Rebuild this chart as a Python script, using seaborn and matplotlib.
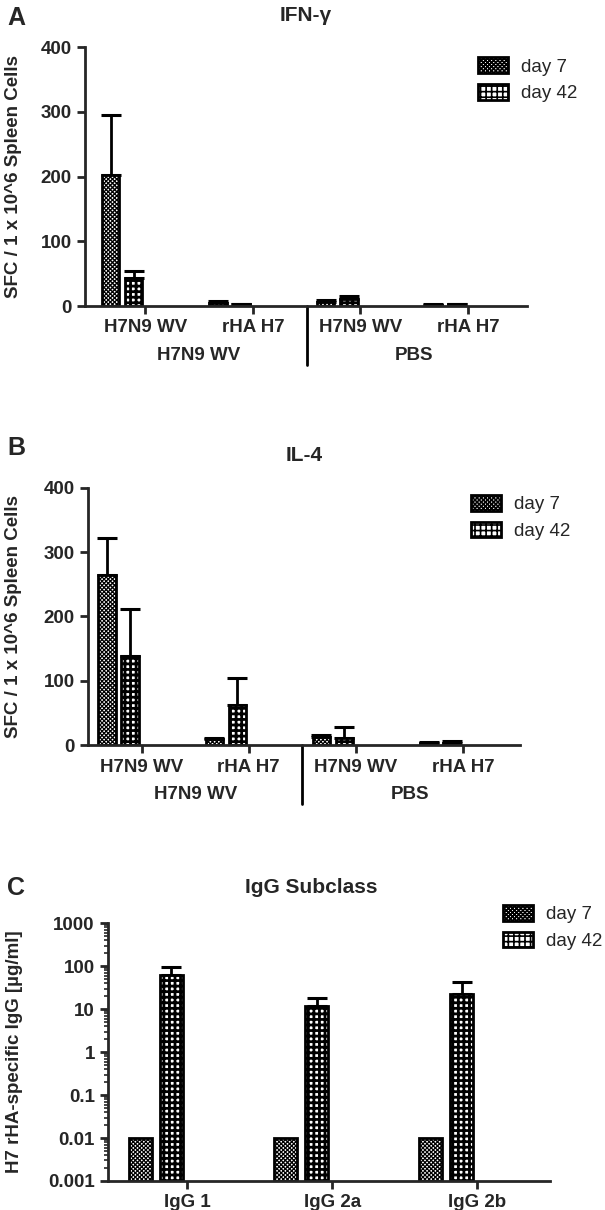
import numpy as np
import pandas as pd
import matplotlib.pyplot as plt
import seaborn as sns
from matplotlib.patches import Patch
from matplotlib.ticker import LogLocator, NullFormatter

# ----------------------------------------
# data
# ----------------------------------------
stim_keys = ["WV / H7N9 WV", "WV / rHA H7", "PBS / H7N9 WV", "PBS / rHA H7"]
stim_labels = ["H7N9 WV", "rHA H7", "H7N9 WV", "rHA H7"]
immun_groups = ["H7N9 WV", "PBS"]
days = ["day 7", "day 42"]
pad_levels = ["pad a", "pad b"]  # GraphPad reserves room for 4 data sets

ifn_day7 = [203, 5, 7, 2]
ifn_day7_err = [93, 3, 3, 1]
ifn_day42 = [43, 3, 11, 3]
ifn_day42_err = [12, 1, 4, 1]

il4_day7 = [265, 10, 13, 3]
il4_day7_err = [57, 2, 3, 2]
il4_day42 = [138, 62, 12, 4]
il4_day42_err = [73, 43, 16, 2]

igg_classes = ["IgG 1", "IgG 2a", "IgG 2b"]
igg_day7 = [0.01, 0.01, 0.01]
igg_day42 = [62, 12, 23]
igg_day42_err = [36, 6, 19]

cyto_ticks = [0, 100, 200, 300, 400]
igg_ticks = [0.001, 0.01, 0.1, 1, 10, 100, 1000]
igg_tick_labels = ["0.001", "0.01", "0.1", "1", "10", "100", "1000"]

hatches = ["xxxxxxxx", "+++"]
hatch_lw = [0.9, 2.0]

sns.set_style("ticks")
plt.rcParams["font.family"] = ["Liberation Sans", "DejaVu Sans"]
plt.rcParams["hatch.linewidth"] = 1.2

TICK_FS = 13.5


def style_hatch(p, i):
    p.set_hatch(hatches[i])
    if hasattr(p, "set_hatch_linewidth"):
        p.set_hatch_linewidth(hatch_lw[i])


def long_frame(keys, d7, d42):
    rows = []
    for k, a, b in zip(keys, d7, d42):
        rows += [(k, "day 7", a), (k, "day 42", b),
                 (k, "pad a", np.nan), (k, "pad b", np.nan)]
    return pd.DataFrame(rows, columns=["x", "day", "value"])


def draw_panel(ax, df, order, errs, anchor, floor=None):
    sns.barplot(data=df, x="x", y="value", hue="day", order=order,
                hue_order=days + pad_levels, palette=["white"] * 4,
                edgecolor="black", linewidth=2, width=0.86, gap=0.25,
                errorbar=None, legend=False,
                log_scale=True if floor else None, ax=ax)
    for i, (cont, err) in enumerate(zip(ax.containers[:2], errs)):
        for p in cont:
            style_hatch(p, i)
            if floor:
                # log axis: start the bar at the bottom of the axis
                top = p.get_y() + p.get_height()
                p.set_y(floor)
                p.set_height(top - floor)
        if err is None:
            continue
        xs = [p.get_x() + p.get_width() / 2 for p in cont]
        ys = [p.get_y() + p.get_height() for p in cont]
        ax.errorbar(xs, ys, yerr=[np.zeros(len(err)), err], fmt="none",
                    ecolor="black", elinewidth=2, capsize=7, capthick=2.2,
                    zorder=0.5)
    for s in ["top", "right"]:
        ax.spines[s].set_visible(False)
    for s in ["left", "bottom"]:
        ax.spines[s].set_linewidth(2)
    ax.tick_params(width=2, length=6, labelsize=TICK_FS)
    for t in ax.get_xticklabels() + ax.get_yticklabels():
        t.set_fontweight("bold")
    ax.set_xlabel("")
    handles = []
    for i, d in enumerate(days):
        h = Patch(facecolor="white", edgecolor="black", linewidth=2, label=d)
        style_hatch(h, i)
        handles.append(h)
    ax.legend(handles=handles, loc="upper left", frameon=False, fontsize=13.5,
              handlelength=1.6, handleheight=0.9, handletextpad=0.7,
              labelspacing=0.45, borderaxespad=0, bbox_to_anchor=anchor)


def group_labels(ax):
    tr = ax.get_xaxis_transform()
    for pos, g in zip([0.5, 2.5], immun_groups):
        ax.text(pos, -0.19, g, transform=tr, ha="center", va="center",
                fontsize=TICK_FS, fontweight="bold")
    ax.plot([1.5, 1.5], [0, -0.228], transform=tr, color="black", lw=2,
            clip_on=False)


fig = plt.figure(figsize=(6.05, 12.1), dpi=100)
ax_a = fig.add_axes([0.1405, 0.747, 0.731, 0.214])
ax_b = fig.add_axes([0.1455, 0.384, 0.714, 0.213])
ax_c = fig.add_axes([0.1785, 0.024, 0.7305, 0.213])

# A: IFN-gamma
draw_panel(ax_a, long_frame(stim_keys, ifn_day7, ifn_day42), stim_keys,
           [ifn_day7_err, ifn_day42_err], (0.871, 0.99))
ax_a.set_ylim(0, 400)
ax_a.set_yticks(cyto_ticks)
ax_a.set_xlim(-0.56, 3.55)
ax_a.set_xticks(range(4), stim_labels, fontweight="bold")
ax_a.set_ylabel("SFC / 1 x 10^6 Spleen Cells", fontsize=13.5, fontweight="bold")
ax_a.yaxis.set_label_coords(-0.1425, 0.5)
ax_a.set_title("IFN-γ", fontsize=15, fontweight="bold", pad=19)
group_labels(ax_a)

# B: IL-4
draw_panel(ax_b, long_frame(stim_keys, il4_day7, il4_day42), stim_keys,
           [il4_day7_err, il4_day42_err], (0.87, 1.0))
ax_b.set_ylim(0, 400)
ax_b.set_yticks(cyto_ticks)
ax_b.set_xlim(-0.5, 3.53)
ax_b.set_xticks(range(4), stim_labels, fontweight="bold")
ax_b.set_ylabel("SFC / 1 x 10^6 Spleen Cells", fontsize=13.5, fontweight="bold")
ax_b.yaxis.set_label_coords(-0.153, 0.5)
ax_b.set_title("IL-4", fontsize=15, fontweight="bold", pad=19)
group_labels(ax_b)

# C: IgG subclass
draw_panel(ax_c, long_frame(igg_classes, igg_day7, igg_day42), igg_classes,
           [None, igg_day42_err], (0.876, 1.10), floor=igg_ticks[0])
ax_c.set_ylim(0.001, 1000)
ax_c.set_yticks(igg_ticks, igg_tick_labels, fontweight="bold")
ax_c.yaxis.set_minor_locator(LogLocator(base=10, subs=np.arange(2, 10), numticks=20))
ax_c.yaxis.set_minor_formatter(NullFormatter())
ax_c.tick_params(which="minor", width=1.2, length=3)
ax_c.set_xlim(-0.545, 2.5)
ax_c.set_xticks(range(3), igg_classes, fontweight="bold")
ax_c.set_ylabel("H7 rHA-specific IgG [µg/ml]", fontsize=13.5, fontweight="bold")
ax_c.yaxis.set_label_coords(-0.192, 0.5)
ax_c.set_title("IgG Subclass", fontsize=15, fontweight="bold", pad=22, x=0.46)

for y, letter in zip([0.995, 0.64, 0.276], ["A", "B", "C"]):
    fig.text(0.012, y, letter, fontsize=18, fontweight="bold", va="top")

fig.savefig("out.png", dpi=100)
